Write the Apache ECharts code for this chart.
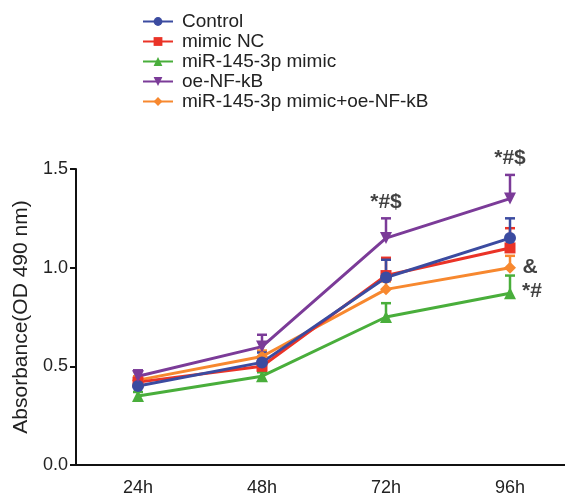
<!DOCTYPE html>
<html>
<head>
<meta charset="utf-8">
<script src="https://cdn.jsdelivr.net/npm/echarts@6/dist/echarts.min.js"></script>
<style>
  html, body { margin: 0; padding: 0; background: #fff; }
  #chart { width: 565px; height: 497px; }
</style>
</head>
<body>
<div id="chart"></div>
<script>
// time points
const hours = ['24h', '48h', '72h', '96h']
// mean absorbance per group
const control = [0.40, 0.52, 0.95, 1.15]
const mimicNC = [0.42, 0.50, 0.96, 1.10]
const mimic = [0.35, 0.45, 0.75, 0.87]
const oeNFkB = [0.45, 0.60, 1.15, 1.35]
const mimicOe = [0.43, 0.55, 0.89, 1.00]
// upper SD
const controlErr = [0.02, 0.05, 0.09, 0.10]
const mimicNCErr = [0.02, 0.03, 0.09, 0.10]
const mimicErr = [0.02, 0.02, 0.07, 0.09]
const oeNFkBErr = [0.03, 0.06, 0.10, 0.12]
const mimicOeErr = [0.02, 0.03, 0.04, 0.06]
// significance marks [time, y, text]
const notes = [['72h', 1.33, '*#$'], ['96h', 1.555, '*#$'], ['96h', 1.0, '&'], ['96h', 0.88, '*#']]

const groups = [
  { name: 'miR-145-3p mimic', data: mimic, err: mimicErr, color: '#49AE3B', symbol: 'triangle', rotate: 0 },
  { name: 'miR-145-3p mimic+oe-NF-kB', data: mimicOe, err: mimicOeErr, color: '#F7882F', symbol: 'diamond', rotate: 0 },
  { name: 'mimic NC', data: mimicNC, err: mimicNCErr, color: '#EA3327', symbol: 'rect', rotate: 0 },
  { name: 'Control', data: control, err: controlErr, color: '#3B4BA0', symbol: 'circle', rotate: 0 },
  { name: 'oe-NF-kB', data: oeNFkB, err: oeNFkBErr, color: '#7B3B98', symbol: 'triangle', rotate: 180 }
]

let myChart = echarts.init(document.getElementById('chart'))
let series = []
groups.forEach(function (g) {
  // error bar (upper only)
  series.push({
    type: 'custom',
    name: g.name + ' err',
    data: g.data.map(function (v, i) { return [i, v, v + g.err[i]] }),
    z: 2,
    renderItem: function (params, api) {
      let p0 = api.coord([api.value(0), api.value(1)])
      let p1 = api.coord([api.value(0), api.value(2)])
      let style = { stroke: g.color, lineWidth: 2.5 }
      return {
        type: 'group',
        children: [
          { type: 'line', shape: { x1: p0[0], y1: p0[1], x2: p1[0], y2: p1[1] }, style: style },
          { type: 'line', shape: { x1: p1[0] - 5, y1: p1[1], x2: p1[0] + 5, y2: p1[1] }, style: style }
        ]
      }
    }
  })
  series.push({
    type: 'line',
    name: g.name,
    data: g.data,
    z: 3,
    color: g.color,
    symbol: g.symbol,
    symbolRotate: g.rotate,
    symbolSize: g.symbol === 'rect' ? 11 : 12,
    showAllSymbol: true,
    lineStyle: { width: 3, color: g.color },
    itemStyle: { color: g.color }
  })
})
series.push({
  type: 'scatter',
  name: 'notes',
  data: notes.map(function (n) {
    let item = { value: n }
    if (n[2] === '&') item.label = { offset: [20, 0] }
    if (n[2] === '*#') item.label = { offset: [22, 0] }
    return item
  }),
  symbolSize: 0,
  clip: false,
  z: 5,
  label: {
    show: true,
    position: 'inside',
    formatter: function (p) { return p.value[2] },
    color: '#111',
    fontSize: 21,
    fontWeight: 'bold',
    fontFamily: 'Liberation Sans, Arial'
  }
})

myChart.setOption({
  animation: false,
  textStyle: { fontFamily: 'Liberation Sans, Arial' },
  legend: {
    orient: 'vertical',
    left: 137,
    top: 7,
    itemGap: 1,
    itemWidth: 30,
    itemHeight: 11,
    data: ['Control', 'mimic NC', 'miR-145-3p mimic', 'oe-NF-kB', 'miR-145-3p mimic+oe-NF-kB'],
    textStyle: { fontSize: 19, lineHeight: 18, color: '#222', padding: [0, 0, 0, 4], fontFamily: 'Liberation Sans, Arial' }
  },
  grid: {
    left: 76,
    right: -7,
    top: 169,
    bottom: 32,
    outerBoundsMode: 'none'
  },
  xAxis: {
    type: 'category',
    data: hours,
    boundaryGap: true,
    axisLine: { lineStyle: { color: '#111', width: 2 } },
    axisTick: { alignWithLabel: true, length: 6, lineStyle: { color: '#111', width: 2 } },
    axisLabel: { fontSize: 18, color: '#222', margin: 14 }
  },
  yAxis: {
    type: 'value',
    min: 0,
    max: 1.5,
    interval: 0.5,
    name: 'Absorbance(OD 490 nm)',
    nameLocation: 'middle',
    nameGap: 44,
    nameTextStyle: { fontSize: 21, color: '#222' },
    splitLine: { show: false },
    axisLine: { show: true, lineStyle: { color: '#111', width: 2 } },
    axisTick: { show: true, length: 6, lineStyle: { color: '#111', width: 2 } },
    axisLabel: { fontSize: 18, color: '#222', margin: 8, formatter: function (v) { return v.toFixed(1) } }
  },
  series: series
})
window.addEventListener('resize', function () {
  myChart.resize()
})
</script>
</body>
</html>
